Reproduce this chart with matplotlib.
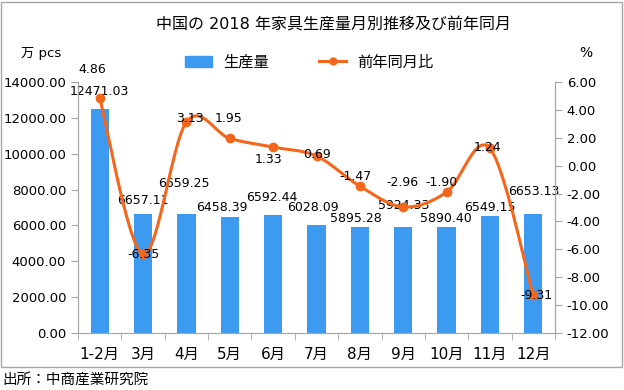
import numpy as np
import matplotlib.pyplot as plt
from matplotlib.patches import Rectangle

plt.rcParams['font.family'] = ['DejaVu Sans', 'Noto Sans CJK JP']

# data
months = ['1-2月', '3月', '4月', '5月', '6月', '7月', '8月', '9月', '10月', '11月', '12月']
production = [12471.03, 6657.11, 6659.25, 6458.39, 6592.44, 6028.09,
              5895.28, 5924.33, 5890.40, 6549.15, 6653.13]
yoy = [4.86, -6.35, 3.13, 1.95, 1.33, 0.69, -1.47, -2.96, -1.90, 1.24, -9.31]

# label nudges in pixels (dx, dy)
bar_off = [(0, 18), (0, 13), (-3, 30), (-8, 10), (-1, 17), (-4, 17),
           (-4, 9), (0, 21), (-1, 9), (0, 8), (0, 22)]
line_off = [(-7, 28), (0, 0), (3, 4), (-1, 20), (-5, -12), (1, 2),
            (-4, 10), (-1, 24), (-5, 10), (-2, 1), (3, 0)]

BLUE = '#3C9AF0'
ORANGE = '#F4661B'
GRAY = '#A6A6A6'


def smooth(x, y, n=30):
    # Excel style smoothed line: cubic bezier with catmull-rom control points
    x = np.asarray(x, float)
    y = np.asarray(y, float)
    px = np.concatenate([[x[0]], x, [x[-1]]])
    py = np.concatenate([[y[0]], y, [y[-1]]])
    xs, ys = [], []
    t = np.linspace(0, 1, n)
    for i in range(len(x) - 1):
        p0 = np.array([x[i], y[i]])
        p3 = np.array([x[i + 1], y[i + 1]])
        c1 = p0 + (np.array([px[i + 2], py[i + 2]]) - np.array([px[i], py[i]])) / 6
        c2 = p3 - (np.array([px[i + 3], py[i + 3]]) - np.array([px[i + 1], py[i + 1]])) / 6
        b = ((1 - t) ** 3)[:, None] * p0 + (3 * (1 - t) ** 2 * t)[:, None] * c1 \
            + (3 * (1 - t) * t ** 2)[:, None] * c2 + (t ** 3)[:, None] * p3
        xs.extend(b[:, 0])
        ys.extend(b[:, 1])
    return np.array(xs), np.array(ys)


fig = plt.figure(figsize=(6.24, 3.9), dpi=100)
ax = fig.add_axes([78 / 624, 1 - 333 / 390, (555 - 78) / 624, (333 - 82) / 390])
ax2 = ax.twinx()

x = np.arange(len(months))
bars = ax.bar(x, production, width=0.42, color=BLUE, zorder=2)
ax.set_xlim(-0.5, len(months) - 0.5)
ax.set_ylim(0, 14000)
ax.set_yticks(np.arange(0, 14001, 2000))
ax.set_yticklabels([f'{v:.2f}' for v in np.arange(0, 14001, 2000)])
ax.set_xticks(x)
ax.set_xticklabels(months, fontsize=11)
ax.set_xticks(np.arange(-0.5, len(months), 1), minor=True)
ax.tick_params(axis='x', which='major', length=0, pad=10)
ax.tick_params(axis='x', which='minor', length=5, color=GRAY)
ax.tick_params(axis='y', length=5, color=GRAY, labelsize=9.5)

sx, sy = smooth(x, yoy)
ax2.plot(sx, sy, color=ORANGE, lw=2.2, zorder=3)
ax2.plot(x, yoy, 'o', color=ORANGE, ms=6, zorder=4)
ax2.set_ylim(-12, 6)
ax2.set_yticks(np.arange(-12, 7, 2))
ax2.set_yticklabels([f'{v:.2f}' for v in np.arange(-12, 7, 2)])
ax2.tick_params(axis='y', length=5, color=GRAY, labelsize=9.5)

for a in (ax, ax2):
    a.spines['top'].set_visible(False)
    for s in ('left', 'right', 'bottom'):
        a.spines[s].set_color(GRAY)

for i, v in enumerate(production):
    ax.annotate(f'{v:.2f}', (x[i], v), xytext=bar_off[i], textcoords='offset pixels',
                ha='center', va='center', fontsize=9, zorder=5)
for i, v in enumerate(yoy):
    ax2.annotate(f'{v:.2f}', (x[i], v), xytext=line_off[i], textcoords='offset pixels',
                 ha='center', va='center', fontsize=9, zorder=5)

fig.text(333 / 624, 1 - 25 / 390, '中国の 2018 年家具生産量月別推移及び前年同月',
         ha='center', va='center', fontsize=11.5)
fig.text(41 / 624, 1 - 53 / 390, '万 pcs', ha='center', va='center', fontsize=9.5)
fig.text(586 / 624, 1 - 53 / 390, '%', ha='center', va='center', fontsize=10)

h_bar = Rectangle((0, 0), 1, 1, color=BLUE)
h_line = plt.Line2D([], [], color=ORANGE, lw=2.2, marker='o', ms=5)
fig.legend([h_bar, h_line], ['生産量', '前年同月比'], loc='center',
           bbox_to_anchor=(309 / 624, 1 - 62 / 390), ncol=2, frameon=False,
           fontsize=11, handlelength=1.8, handletextpad=0.7, columnspacing=3.3)

fig.patches.append(Rectangle((1 / 624, 1 - 367 / 390), 621 / 624, 365 / 390,
                             transform=fig.transFigure, fill=False,
                             edgecolor=GRAY, lw=1))
fig.text(2 / 624, 1 - 379 / 390, '出所：中商産業研究院', ha='left', va='center',
         fontsize=10.5)

fig.savefig('out.png', dpi=100)
